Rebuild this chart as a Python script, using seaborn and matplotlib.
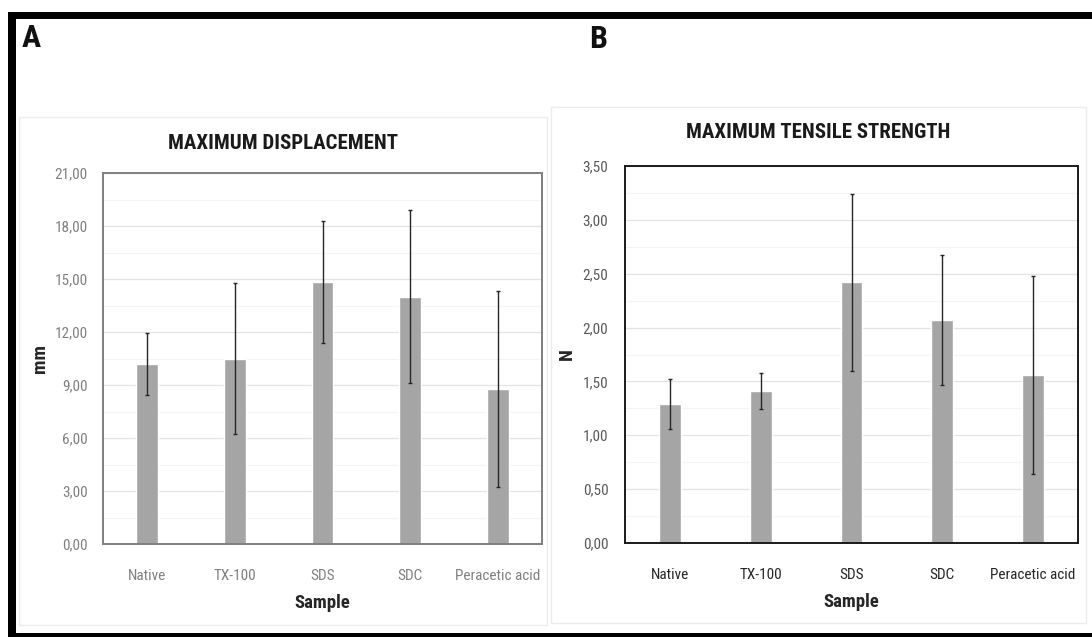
import matplotlib
matplotlib.use("Agg")
import matplotlib.pyplot as plt
import seaborn as sns
import pandas as pd
from matplotlib import font_manager
from matplotlib.patches import Rectangle
from matplotlib.ticker import FuncFormatter, MultipleLocator

# datos
samples = ["Native", "TX-100", "SDS", "SDC", "Peracetic acid"]
displacement_mm = [10.20, 10.50, 14.85, 14.00, 8.75]
displacement_err = [1.75, 4.30, 3.45, 4.90, 5.55]
tensile_n = [1.29, 1.41, 2.42, 2.07, 1.56]
tensile_err = [0.23, 0.17, 0.82, 0.60, 0.92]

sns.set_style("white")

# buscar una fuente estrecha (parecida a Calibri)
fonts = font_manager.fontManager.ttflist
names = {f.name for f in fonts}
family = ["DejaVu Sans"]
for cand in ["Liberation Sans Narrow", "Roboto Condensed", "Open Sans Condensed"]:
    if cand in names:
        family = [cand, "DejaVu Sans"]
        break
plt.rcParams["font.family"] = family
condensed = any(f.stretch in ("condensed", "semi-condensed") and f.name == family[0] for f in fonts)
if condensed:
    plt.rcParams["font.stretch"] = "condensed"
narrow = family[0] != "DejaVu Sans" or condensed
k = 1.0 if narrow else 0.85

df_a = pd.DataFrame({"Sample": samples, "mm": displacement_mm, "err": displacement_err})
df_b = pd.DataFrame({"Sample": samples, "N": tensile_n, "err": tensile_err})

fig = plt.figure(figsize=(10.92, 6.37), dpi=100)
W, H = 1092, 637


def box(x0, y0, x1, y1, **kw):
    # rectangulo en pixeles (y desde arriba)
    r = Rectangle((x0 / W, 1 - y1 / H), (x1 - x0) / W, (y1 - y0) / H,
                  transform=fig.transFigure, **kw)
    fig.add_artist(r)


# marco negro de la figura
box(8, 12, 1092, 19, color="black", lw=0)
box(8, 12, 16, 637, color="black", lw=0)
box(8, 633, 1092, 637, color="black", lw=0)
# recuadros de cada grafico
box(19, 117, 547, 625, fill=False, ec="#ececec", lw=1)
box(551, 107, 1086, 623, fill=False, ec="#ececec", lw=1)

fig.text(22 / W, 1 - 38 / H, "A", fontsize=23 * k, fontweight="bold", va="center", color="#111111")
fig.text(589 / W, 1 - 39 / H, "B", fontsize=23 * k, fontweight="bold", va="center", color="#111111")

comma = FuncFormatter(lambda v, p: f"{v:.2f}".replace(".", ","))

# A. desplazamiento maximo
ax1 = fig.add_axes([103 / W, 1 - 544 / H, 439 / W, 371 / H])
sns.barplot(data=df_a, x="Sample", y="mm", color="#a5a5a5", width=0.25,
            errorbar=None, saturation=1, ax=ax1)
ax1.errorbar(range(len(samples)), df_a["mm"], yerr=df_a["err"], fmt="none",
             ecolor="#262626", elinewidth=1, capsize=1.5, capthick=1)
ax1.set_xlim(-0.5, len(samples) - 0.5)
ax1.set_ylim(0, 21)
ax1.yaxis.set_major_locator(MultipleLocator(3))
ax1.yaxis.set_minor_locator(MultipleLocator(1.5))
ax1.yaxis.set_major_formatter(comma)
ax1.grid(axis="y", which="major", color="#e3e3e3", lw=0.9)
ax1.grid(axis="y", which="minor", color="#f4f4f4", lw=0.8)
ax1.set_axisbelow(True)
for s in ax1.spines.values():
    s.set_color("#7f7f7f")
    s.set_linewidth(1.4)
ax1.tick_params(axis="y", length=0, pad=11, labelsize=11 * k, labelcolor="#808080")
ax1.tick_params(axis="x", length=0, pad=18, labelsize=11 * k, labelcolor="#808080")
# el titulo va centrado en el recuadro del grafico, no en los ejes
ax1.set_title("MAXIMUM DISPLACEMENT", fontsize=15 * k, fontweight="bold", pad=17,
              color="#1a1a1a", x=0.41)
ax1.set_xlabel("Sample", fontsize=13.5 * k, fontweight="bold", labelpad=8)
ax1.set_ylabel("mm", fontsize=14 * k, fontweight="bold", labelpad=4)

# B. resistencia maxima a la traccion
ax2 = fig.add_axes([625 / W, 1 - 543 / H, 453 / W, 377 / H])
sns.barplot(data=df_b, x="Sample", y="N", color="#a5a5a5", width=0.24,
            errorbar=None, saturation=1, ax=ax2)
ax2.errorbar(range(len(samples)), df_b["N"], yerr=df_b["err"], fmt="none",
             ecolor="#262626", elinewidth=1, capsize=1.5, capthick=1)
ax2.set_xlim(-0.5, len(samples) - 0.5)
ax2.set_ylim(0, 3.5)
ax2.yaxis.set_major_locator(MultipleLocator(0.5))
ax2.yaxis.set_minor_locator(MultipleLocator(0.25))
ax2.yaxis.set_major_formatter(comma)
ax2.grid(axis="y", which="major", color="#e3e3e3", lw=0.9)
ax2.grid(axis="y", which="minor", color="#f4f4f4", lw=0.8)
ax2.set_axisbelow(True)
for s in ax2.spines.values():
    s.set_color("#1a1a1a")
    s.set_linewidth(1.4)
ax2.tick_params(axis="y", length=0, pad=12, labelsize=11 * k, labelcolor="#595959")
ax2.tick_params(axis="x", length=0, pad=18, labelsize=11 * k, labelcolor="#262626")
ax2.set_title("MAXIMUM TENSILE STRENGTH", fontsize=15 * k, fontweight="bold", pad=20,
              color="#1a1a1a", x=0.426)
ax2.set_xlabel("Sample", fontsize=13.5 * k, fontweight="bold", labelpad=8)
ax2.set_ylabel("N", fontsize=14 * k, fontweight="bold", labelpad=5)

fig.savefig("out.png", dpi=100)
